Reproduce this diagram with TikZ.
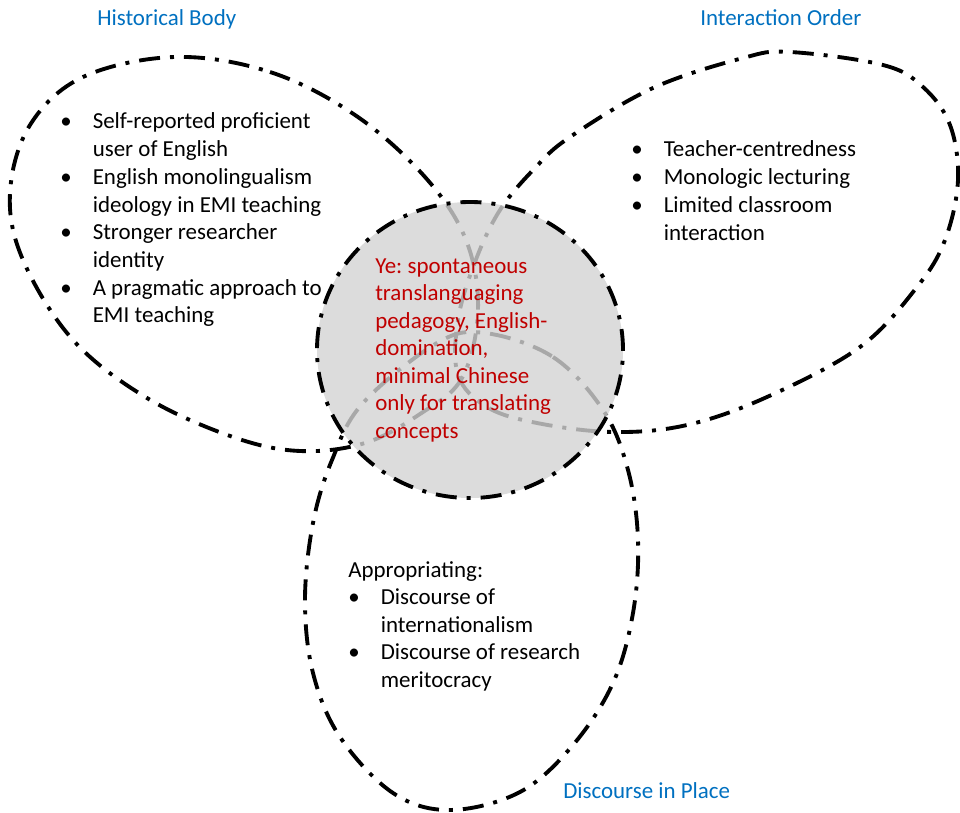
\documentclass[tikz,border=0pt]{standalone}
\usepackage{fontspec}
\setmainfont{Carlito}
\frenchspacing
\definecolor{lblblue}{HTML}{0070C0}
\definecolor{txtred}{HTML}{C00000}
\definecolor{circfill}{RGB}{211,211,211}
\tikzset{
  petal/.style={line width=2.9pt, dash pattern=on 15.75pt off 7.5pt on 3pt off 7.5pt},
  txt/.style={font=\fontsize{17.2}{20.8}\selectfont, anchor=base west, inner sep=0pt},
  redtxt/.style={txt, text=txtred},
  lbl/.style={txt, text=lblblue},
}
\newcommand{\bul}{\makebox[24.4pt][l]{•}}
\newcommand{\ind}{\hspace*{24.4pt}}
\begin{document}
\begin{tikzpicture}[x=0.75pt,y=-0.75pt]
\useasboundingbox (0,0) rectangle (960,813);
% petals
\draw[petal] plot[smooth cycle, tension=0.6] coordinates {
 (175,57) (270,72) (355,115) (425,177) (466,240) (478,310) (462,378)
 (420,414) (365,443) (300,451) (233,437) (147,398) (73,340) (23,260)
 (10,193) (30,125) (83,77)};
\draw[petal] plot[smooth cycle, tension=0.6] coordinates {
 (790,52) (883,65) (923,87) (950,125) (958,180) (945,240) (917,287)
 (860,347) (767,397) (687,425) (613,432) (537,423) (487,407) (458,375)
 (458,320) (475,262) (500,210) (535,168) (570,137) (653,88) (743,58)};
\draw[petal] plot[smooth cycle, tension=0.6] coordinates {
 (485,333) (553,357) (603,410) (628,470) (638,540) (633,613) (613,683)
 (573,745) (520,792) (450,810) (393,793) (340,737) (313,673) (305,600)
 (313,523) (332,460) (363,403) (437,343)};
% centre circle
\fill[circfill, fill opacity=0.8] (470,350) ellipse [x radius=114.75pt, y radius=111pt];
\draw[petal] (470,350) ellipse [x radius=114.75pt, y radius=111pt];
% labels
\node[lbl] (hb) at (97,26) {Historical Body};
\node[lbl] (io) at (700,26) {Interaction Order};
\node[lbl] (dp) at (563,798) {Discourse in Place};
% historical body
\node[txt] (hb1) at (60,129.0) {\bul Self-reported proficient};
\node[txt] (hb2) at (60,156.7) {\ind user of English};
\node[txt] (hb3) at (60,184.4) {\bul English monolingualism};
\node[txt] (hb4) at (60,212.1) {\ind ideology in EMI teaching};
\node[txt] (hb5) at (60,239.8) {\bul Stronger researcher};
\node[txt] (hb6) at (60,267.5) {\ind identity};
\node[txt] (hb7) at (60,295.2) {\bul A pragmatic approach to};
\node[txt] (hb8) at (60,322.9) {\ind EMI teaching};
% interaction order
\node[txt] (io1) at (631,157.0) {\bul Teacher-centredness};
\node[txt] (io2) at (631,184.7) {\bul Monologic lecturing};
\node[txt] (io3) at (631,212.4) {\bul Limited classroom};
\node[txt] (io4) at (631,240.1) {\ind interaction};
% centre
\node[redtxt] (c1) at (375,273.0) {Ye: spontaneous};
\node[redtxt] (c2) at (375,300.5) {translanguaging};
\node[redtxt] (c3) at (375,328.0) {pedagogy, English-};
\node[redtxt] (c4) at (375,355.5) {domination,};
\node[redtxt] (c5) at (375,383.0) {minimal Chinese};
\node[redtxt] (c6) at (375,410.5) {only for translating};
\node[redtxt] (c7) at (375,438.0) {concepts};
% discourse in place
\node[txt] (dp0) at (348,577.0) {Appropriating:};
\node[txt] (dp1) at (348,604.5) {\bul Discourse of};
\node[txt] (dp2) at (348,632.0) {\ind internationalism};
\node[txt] (dp3) at (348,659.5) {\bul Discourse of research};
\node[txt] (dp4) at (348,687.0) {\ind meritocracy};
\end{tikzpicture}
\end{document}
